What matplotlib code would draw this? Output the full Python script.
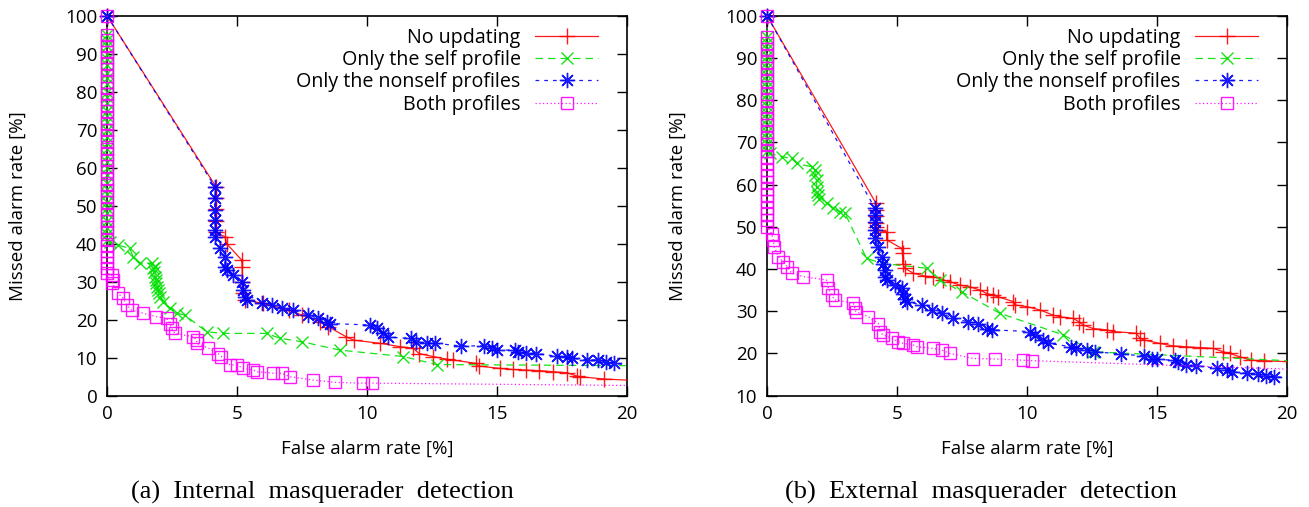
import numpy as np
import matplotlib
matplotlib.use("Agg")
import matplotlib.pyplot as plt
from matplotlib.lines import Line2D

# ---------------- data: (a) internal ----------------
int_none_x = [0, 4.19, 4.19, 4.19, 4.19, 4.19, 4.54, 4.6, 5.18, 5.2, 5.2, 5.22, 5.3, 6.0, 7.0, 7.5, 8.2, 8.5,
              9.2, 9.5, 10.5, 11.27, 11.78, 12.0, 12.55, 13.06, 13.3, 14.2, 14.3, 15.1, 15.6, 16.1, 16.6,
              17.17, 17.7, 18.06, 18.2, 19.1, 20.0]
int_none_y = [100, 55, 52, 49, 46, 43, 41.8, 40, 35.7, 34, 30, 27, 25.2, 24.3, 22.5, 21.2, 19.5, 18.2,
              15.5, 14.6, 13.8, 12.9, 12.5, 11.1, 10.3, 9.6, 9.4, 8.5, 7.8, 7.2, 6.9, 6.75, 6.6,
              6.3, 6.05, 5.2, 5.0, 4.4, 4.1]

int_self_col = [100, 95, 93.5, 92, 90, 88.5, 87, 85, 83.5, 82, 80, 78.5, 77, 75, 73.5, 72, 70, 68, 66.5, 65, 63,
                61.5, 60, 58, 56, 54.5, 53, 51, 49.5, 48, 46, 44, 42.5, 41]
int_self_x = [0.1, 0.44, 0.88, 1.0, 1.27, 1.72, 1.75, 1.8, 1.85, 1.85, 1.88, 1.9, 1.93, 1.97, 2.0, 2.04, 2.17,
              2.42, 2.68, 3.0, 3.83, 4.47, 6.14, 6.65, 7.49, 8.96, 11.4, 12.68, 20.0]
int_self_y = [40.5, 39.6, 38.8, 36.6, 34.8, 34.8, 33.5, 32.5, 34, 31.3, 30.5, 29.6, 28.7, 27.8, 27, 26, 24.7,
              23, 21.7, 21.2, 16.8, 16.4, 16.4, 15.1, 14.2, 12.0, 10.3, 8.2, 7.9]

int_nons_x = [0, 4.15, 4.15, 4.15, 4.15, 4.15, 4.15, 4.35, 4.54, 4.54, 4.6, 4.86, 5.18, 5.24, 5.3, 5.37, 5.95,
              6.33, 6.72, 7.17, 7.74, 8.13, 8.45, 8.58, 10.1, 10.37, 10.6, 10.8, 11.7, 11.9, 12.3, 12.6,
              13.6, 14.5, 14.8, 15.0, 15.7, 15.8, 16.1, 16.5, 17.3, 17.7, 17.9, 18.45, 18.9, 19.2, 19.5, 20.0]
int_nons_y = [100, 55, 51.9, 48.9, 46.2, 43.6, 41.8, 38.8, 36.6, 34, 33, 31.8, 30, 27.8, 26, 25.2, 24.3,
              23.9, 23, 22.5, 21.2, 20.4, 19.5, 19.0, 18.6, 17.7, 16.4, 15.4, 15.1, 14.2, 13.8, 13.8,
              13.1, 13.1, 12.5, 12.0, 12.0, 11.6, 11.3, 11.1, 10.4, 10.1, 9.8, 9.4, 9.4, 8.9, 8.5, 8.1]

int_both_col = [100, 95, 93.5, 92, 90.5, 89, 87.5, 86, 84, 82.5, 81, 79.5, 78, 76.5, 75, 73, 71.5, 70, 68.5, 67,
                65, 63.5, 62, 60.5, 59, 57, 55.5, 54, 52.5, 51, 49, 47.5, 46, 44.5, 43, 41, 39.5, 38, 36.5,
                35, 33.5, 32.2]
int_both_x = [0.18, 0.24, 0.2, 0.44, 0.63, 0.76, 0.95, 1.4, 1.9, 2.29, 2.42, 2.49, 2.6, 3.32, 3.45, 3.45, 3.9,
              4.28, 4.4, 4.73, 4.99, 5.24, 5.63, 5.76, 6.4, 6.72, 7.04, 7.94, 8.77, 9.86, 10.18, 20.0]
int_both_y = [31.8, 30.4, 29.6, 26.9, 25.6, 23.9, 22.5, 21.7, 20.8, 20.4, 19.0, 17.7, 16.4, 15.5, 14.6, 13.8,
              12.5, 11.1, 10.3, 8.1, 8.1, 7.2, 6.75, 6.3, 5.9, 5.9, 5.0, 4.1, 3.5, 3.3, 3.3, 2.7]

# ---------------- data: (b) external ----------------
ext_none_x = [0, 4.19, 4.19, 4.19, 4.19, 4.19, 4.28, 4.6, 4.6, 5.18, 5.22, 5.22, 5.3, 5.63, 6.08, 6.4, 6.78,
              7.04, 7.42, 7.8, 8.2, 8.45, 8.7, 8.9, 9.47, 9.54, 10.0, 10.5, 11.0, 11.27, 11.78, 12.0, 12.17,
              12.55, 13.06, 13.3, 14.2, 14.35, 14.5, 15.1, 15.6, 16.1, 16.65, 17.17, 17.55, 17.8, 18.2, 18.6,
              19.1, 20.0]
ext_none_y = [100, 55.6, 54, 52.5, 51, 50, 49.2, 48.8, 46.9, 44.9, 43.7, 41.3, 40.2, 39, 38.3, 38.2, 37.4,
              37, 36.2, 35.8, 35, 34.2, 33.8, 33.4, 32.3, 31.5, 31.1, 30.3, 29.1, 28.7, 28.3, 27.5, 26.7,
              25.9, 25.6, 25.2, 24.8, 23.6, 23.2, 22.4, 21.8, 21.6, 21.4, 21.2, 20.4, 20.0, 19.2, 18.4,
              18.3, 18.05]

ext_self_col = [100, 95, 93.5, 92, 90.5, 89, 87.5, 86, 84.5, 83, 81.5, 80, 78.5, 77, 75.5, 74, 72.5, 71, 69.5, 68]
ext_self_x = [0.1, 0.56, 0.95, 1.14, 1.72, 1.85, 1.85, 1.91, 1.91, 1.94, 1.97, 2.0, 2.3, 2.55, 2.8, 3.0, 3.83,
              4.47, 6.14, 6.65, 7.49, 8.96, 11.4, 12.55, 20.0]
ext_self_y = [67.4, 66.6, 66.2, 65, 64.2, 63.4, 62.3, 61.1, 59.5, 58.3, 57.5, 56.7, 55.6, 54.4, 53.6, 53.2, 42.5,
              41.3, 40.2, 37.4, 34.6, 29.5, 24.4, 20.4, 18.3]

ext_nons_x = [0, 4.15, 4.15, 4.15, 4.15, 4.15, 4.28, 4.41, 4.47, 4.54, 4.54, 4.6, 4.92, 5.18, 5.24, 5.3, 5.37,
              5.95, 6.33, 6.72, 7.17, 7.74, 8.13, 8.45, 8.64, 10.1, 10.3, 10.6, 10.8, 11.7, 11.9, 12.3, 12.6,
              13.6, 14.5, 14.8, 15.0, 15.7, 15.8, 16.1, 16.5, 17.3, 17.7, 17.9, 18.45, 18.9, 19.2, 19.5, 20.0]
ext_nons_y = [100, 54.4, 52.8, 51.2, 49.2, 47.3, 45.3, 42.9, 41.3, 39.8, 38.2, 37.4, 36.2, 35.4, 34.2, 33, 32.3,
              31.5, 30.3, 29.5, 28.3, 27.5, 27.1, 25.9, 25.6, 25.2, 24.4, 23.2, 22.4, 21.6, 21.2, 20.8, 20.4,
              19.9, 19.4, 18.8, 18.6, 18.4, 18.1, 17.3, 17.1, 16.5, 16.1, 15.7, 15.3, 15.1, 14.7, 14.5, 14.3]

ext_both_col = [100, 95, 93.5, 92, 90.5, 89, 87.5, 86, 84.5, 83, 81.5, 80, 78.5, 77, 75.5, 74, 72.5, 71, 69.5,
                68, 66.5, 65, 63.5, 62, 60.5, 59, 57.5, 56, 54.5, 53, 51.5, 50]
ext_both_x = [0.18, 0.24, 0.27, 0.44, 0.63, 0.76, 0.95, 1.4, 2.29, 2.36, 2.49, 2.6, 3.32, 3.38, 3.42, 3.9, 4.28,
              4.35, 4.45, 4.8, 5.05, 5.24, 5.63, 5.76, 6.4, 6.72, 7.04, 7.94, 8.77, 9.86, 10.18, 20.0]
ext_both_y = [48.4, 46.9, 45.3, 42.9, 41.7, 40.6, 39, 38.2, 37.4, 35.4, 33.8, 32.7, 31.9, 30.7, 29.9, 28.7, 27.1,
              25.2, 24.4, 23.6, 22.8, 22.4, 22.0, 21.6, 21.2, 20.8, 20.0, 18.8, 18.7, 18.4, 18.3, 16.3]

labels = ["No updating", "Only the self profile", "Only the nonself profiles", "Both profiles"]
captions = ["(a)  Internal  masquerader  detection", "(b)  External  masquerader  detection"]
caption_x_px = [322, 981]

plt.rcParams['font.family'] = ['Open Sans', 'DejaVu Sans']

W, H = 1309, 507
fig = plt.figure(figsize=(W / 100, H / 100), dpi=100)
ax_l = fig.add_axes([107 / W, (H - 395.7) / H, 520 / W, 380 / H])
ax_r = fig.add_axes([767 / W, (H - 395.7) / H, 520 / W, 380 / H])

def col(c, x, y):
    return np.concatenate([np.zeros(len(c)), x]), np.concatenate([c, y])

styles = [
    dict(color='#ff0000', ls='-', marker='+', ms=11, mew=1.0),
    dict(color='#00e000', ls=(0, (6, 4)), marker='x', ms=9, mew=1.0),
    dict(color='#0000ff', ls=(0, (3, 4)), marker=(8, 2, 0), ms=11, mew=1.0),
    dict(color='#ff00ff', ls=(0, (1, 2)), marker='s', ms=9, mew=1.0, mfc='none'),
]

panels = [
    (ax_l, [(int_none_x, int_none_y), col(int_self_col, int_self_x, int_self_y),
            (int_nons_x, int_nons_y), col(int_both_col, int_both_x, int_both_y)], (0, 100)),
    (ax_r, [(ext_none_x, ext_none_y), col(ext_self_col, ext_self_x, ext_self_y),
            (ext_nons_x, ext_nons_y), col(ext_both_col, ext_both_x, ext_both_y)], (10, 100)),
]

for i, (ax, series, ylim) in enumerate(panels):
    handles = []
    for (x, y), st, lab in zip(series, styles, labels):
        n = len(x)
        ax.plot(x, y, lw=0.9, alpha=0.9, clip_on=False,
                markevery=list(range(n - 1)), **st)
        handles.append(Line2D([], [], lw=0.9, alpha=0.9, label=lab, **st))
    ax.set_xlim(0, 20)
    ax.set_ylim(*ylim)
    ax.set_xticks([0, 5, 10, 15, 20])
    ax.set_yticks(np.arange(ylim[0], 101, 10))
    ax.tick_params(direction='in', length=7, width=1.0, top=True, right=True, labelsize=13.5, pad=7)
    for s in ax.spines.values():
        s.set_linewidth(1.2)
        s.set_zorder(0.5)
    ax.set_xlabel("False alarm rate [%]", fontsize=13.5, labelpad=12)
    ax.set_ylabel("Missed alarm rate [%]", fontsize=13.5)
    ax.yaxis.set_label_coords(-80 / 520, 0.5)
    ax.legend(handles=handles, loc='upper right', frameon=False, markerfirst=False, fontsize=14.1,
              numpoints=1, handlelength=3.2, handletextpad=0.75, labelspacing=0.12, borderpad=0,
              borderaxespad=0, bbox_to_anchor=((598 - 107) / 520, 1 - (27.5 - 15.7) / 380))
    fig.text(caption_x_px[i] / W, 1 - 492 / H, captions[i], ha='center', va='center',
             fontsize=19, family='Liberation Serif')

fig.savefig("out.png", dpi=100)
